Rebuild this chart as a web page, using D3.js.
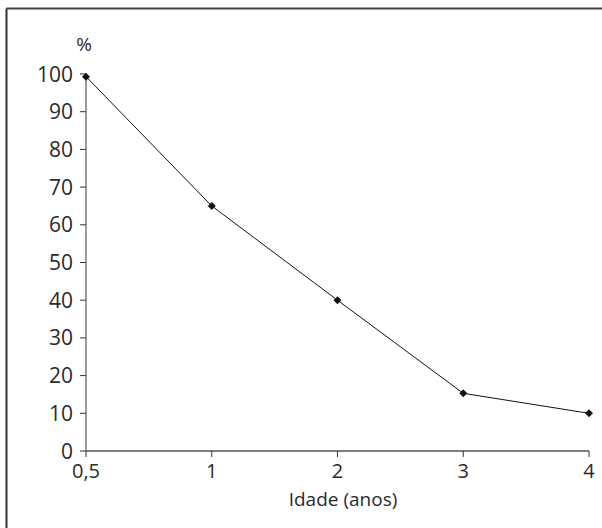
<!DOCTYPE html>
<html><head><meta charset="utf-8">
<script src="https://cdn.jsdelivr.net/npm/d3@7"></script>
<style>body{margin:0;background:#fff}svg{display:block}text{font-family:"Open Sans",sans-serif;fill:#2a2a2a}</style>
</head><body>
<script>
const categories = ["0,5","1","2","3","4"];
const values = [99.3, 65, 40, 15.3, 10];
const yTicks = [0,10,20,30,40,50,60,70,80,90,100];

const W=602,H=528;
const svg=d3.select("body").append("svg").attr("width",W).attr("height",H);
// frame
svg.append("line").attr("x1",6.5).attr("x2",W).attr("y1",8.5).attr("y2",8.5).attr("stroke","#444").attr("stroke-width",2);
svg.append("line").attr("x1",6.5).attr("x2",6.5).attr("y1",8.5).attr("y2",H).attr("stroke","#333").attr("stroke-width",2);

const x=d3.scalePoint().domain(categories).range([86,589]);
const y=d3.scaleLinear().domain([0,100]).range([451,74]);

const gy=svg.append("g").attr("transform","translate(86,0)");
gy.append("line").attr("y1",y(0)).attr("y2",y(100)).attr("stroke","#666").attr("stroke-width",1.3);
yTicks.forEach(t=>{
  gy.append("line").attr("x1",-6).attr("x2",0).attr("y1",y(t)).attr("y2",y(t)).attr("stroke","#333");
  gy.append("text").attr("x",-13).attr("y",y(t)).attr("dy","0.36em").attr("text-anchor","end").attr("font-size",21).text(t);
});
svg.append("text").attr("x",84).attr("y",44).attr("dy","0.36em").attr("text-anchor","middle").attr("font-size",19).text("%");

const gx=svg.append("g");
gx.append("line").attr("x1",86).attr("x2",589).attr("y1",451).attr("y2",451).attr("stroke","#555").attr("stroke-width",1.3);
categories.forEach(c=>{
  gx.append("line").attr("x1",x(c)).attr("x2",x(c)).attr("y1",451).attr("y2",457).attr("stroke","#333");
  gx.append("text").attr("x",x(c)).attr("y",471).attr("dy","0.36em").attr("text-anchor","middle").attr("font-size",20).text(c);
});
svg.append("text").attr("x",343).attr("y",499).attr("dy","0.36em").attr("text-anchor","middle").attr("font-size",19).text("Idade (anos)");

const line=d3.line().x((d,i)=>x(categories[i])).y(d=>y(d));
svg.append("path").datum(values).attr("d",line).attr("fill","none").attr("stroke","#111").attr("stroke-width",1);
svg.selectAll(".m").data(values).join("path").attr("class","m")
  .attr("d","M0,-4L4,0L0,4L-4,0Z")
  .attr("transform",(d,i)=>`translate(${x(categories[i])},${y(d)})`).attr("fill","#111");
</script>
</body></html>
